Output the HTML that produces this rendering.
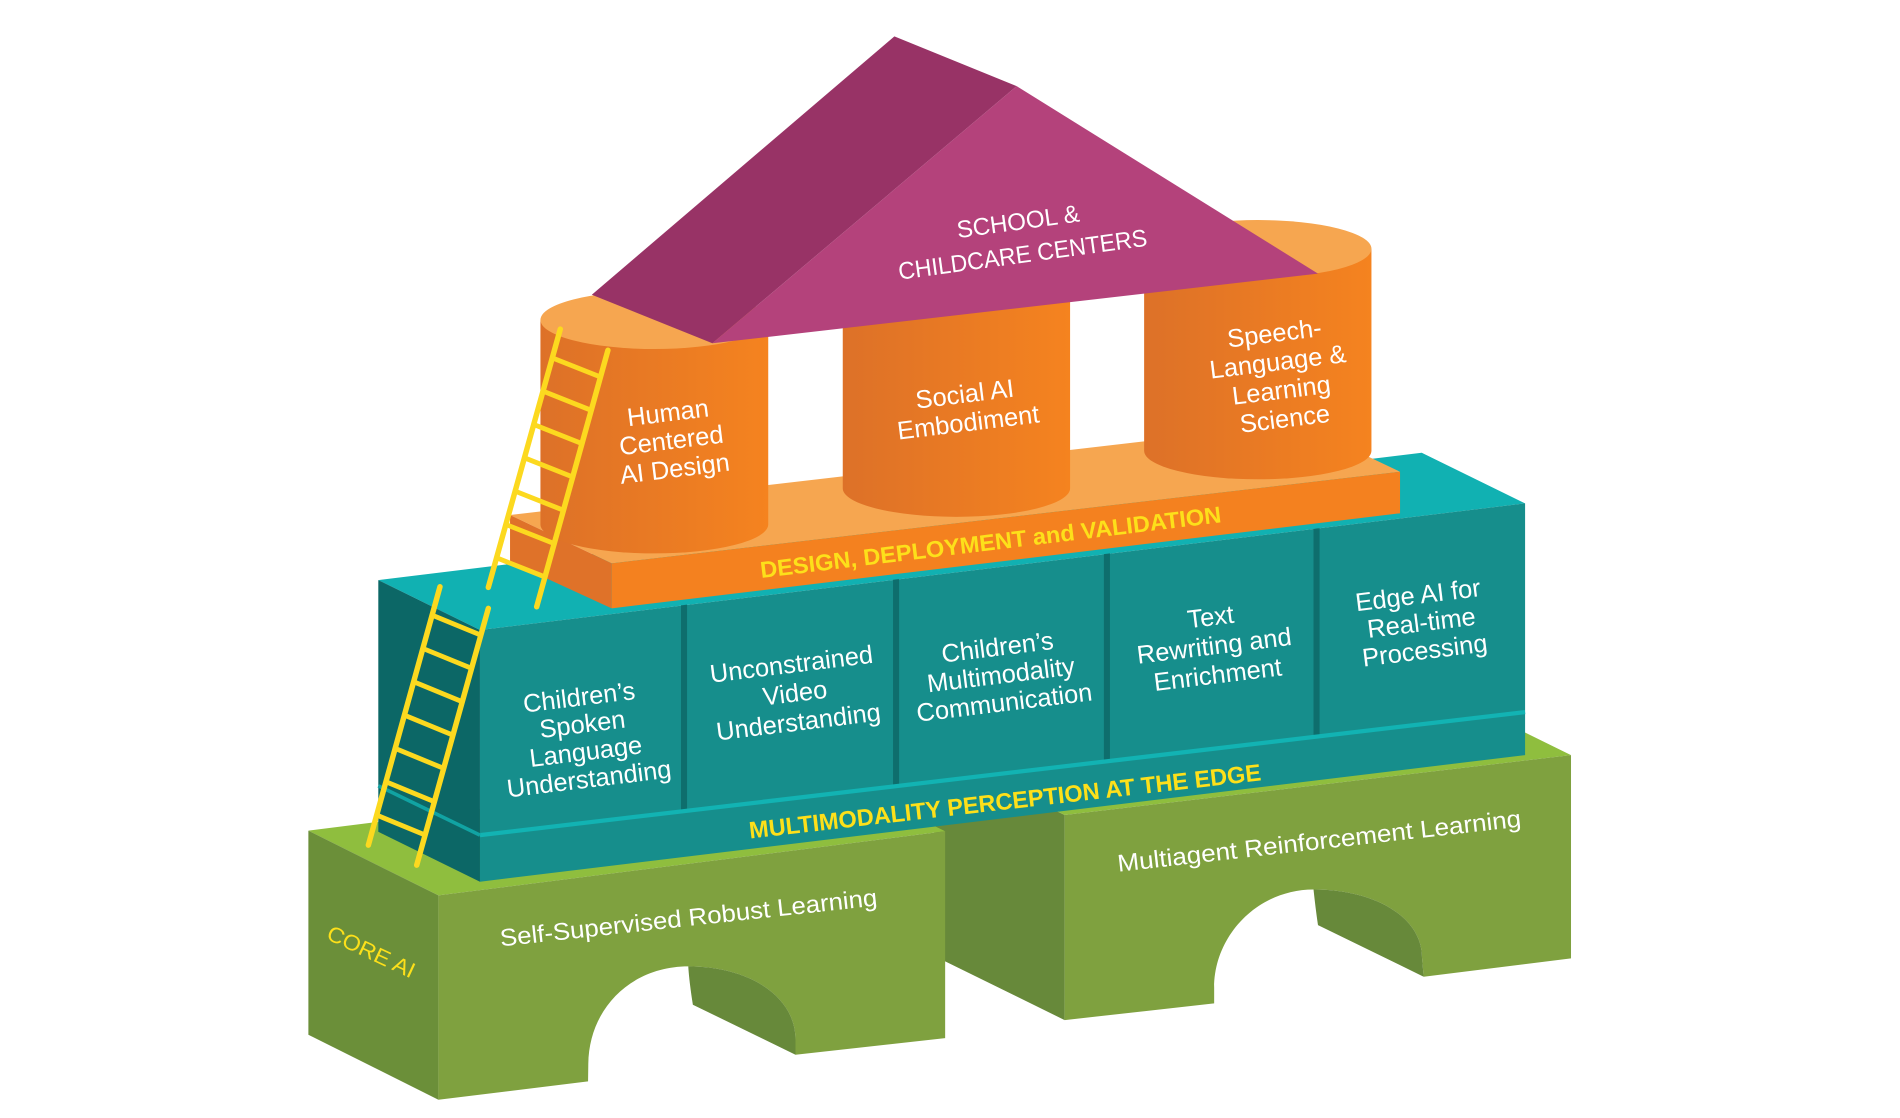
<!DOCTYPE html>
<html>
<head>
<meta charset="utf-8">
<style>
html,body{margin:0;padding:0;background:#ffffff;}
body{width:1900px;height:1118px;overflow:hidden;}
svg{display:block;}
text{font-family:"Liberation Sans",sans-serif;}
.w{fill:#ffffff;font-size:21px;}
.y{fill:#fde01a;}
</style>
</head>
<body>
<svg width="1900" height="1118" viewBox="0 0 1568 922.6" preserveAspectRatio="none" xmlns="http://www.w3.org/2000/svg">
<defs>
<linearGradient id="cyl" x1="0" y1="0" x2="1" y2="0">
<stop offset="0" stop-color="#dd7128"/>
<stop offset="1" stop-color="#f5831f"/>
</linearGradient>
</defs>
<rect x="0" y="0" width="1568" height="922.6" fill="#ffffff"/>

<!-- ===== GREEN BASE ===== -->
<!-- right block left face (gap) -->
<polygon points="771,619.7 878.6,672.6 878.6,841.8 771,788.9" fill="#67893a"/>
<!-- right block top -->
<polygon points="771,619.7 1188.9,570.2 1296.5,623.1 878.6,672.6" fill="#8fbe3e"/>
<!-- right block front -->
<path d="M878.6,672.6 L1296.5,623.1 L1296.5,790.9 L1174.9,806 L1173.5,790 C1173.5,757 1135,734 1084,734 C1038,734 1002,772 1002,815 L1002,828 L878.6,841.8 Z" fill="#7fa13f"/>
<!-- right arch inner -->
<path d="M1084,734 C1135,734 1173.5,757 1173.5,790 L1174.9,806 L1087.7,763.4 C1086,752 1085,743 1084,734 Z" fill="#67893a"/>

<!-- left block top -->
<polygon points="254.5,685.5 672.7,632.8 780,686 361.8,738.9" fill="#8fbe3e"/>
<!-- left block left face -->
<polygon points="254.5,685.5 361.8,738.9 361.8,907.5 254.5,853.9" fill="#6b8f39"/>
<!-- left block front -->
<path d="M361.8,738.9 L780,686 L780,856.7 L656.5,870.4 L656.5,858 C656.5,822 618,797.5 568,797.5 C521,797.5 486,832 485.5,878 L485.3,892.4 L361.8,907.5 Z" fill="#7fa13f"/>
<!-- left arch inner -->
<path d="M568,797.5 C618,797.5 656.5,822 656.5,858 L656.5,870.4 L571.8,829.1 C570,818 568.5,806 568,797.5 Z" fill="#67893a"/>

<!-- ===== TEAL BLOCK ===== -->
<polygon points="312.2,478.7 1173.3,373.6 1258.6,415.4 396.1,519.9" fill="#11b1b2"/>
<polygon points="312.2,478.7 396.1,519.9 396.1,727.6 312.2,686.4" fill="#0c6766"/>
<polygon points="396.1,519.9 1258.6,415.4 1258.6,623.1 396.1,727.6" fill="#168e8c"/>
<!-- cell dividers -->
<polygon points="562,499.6 567,499 567,667.5 562,668.2" fill="#0e6e6d"/>
<polygon points="737,478.4 742,477.8 742,647 737,647.6" fill="#0e6e6d"/>
<polygon points="911,457.3 916,456.7 916,626.5 911,627.1" fill="#0e6e6d"/>
<polygon points="1084,436.4 1089,435.8 1089,606.1 1084,606.7" fill="#0e6e6d"/>
<!-- band highlight -->
<line x1="396.1" y1="689.2" x2="1258.6" y2="587.6" stroke="#12b3b3" stroke-width="3.5"/>
<line x1="312.2" y1="648.5" x2="396.1" y2="689.2" stroke="#11a3a3" stroke-width="3"/>

<!-- ===== ORANGE SLAB ===== -->
<polygon points="420.9,425 1071.5,349.4 1155.4,389.3 504.8,464.9" fill="#f6a650"/>
<polygon points="420.9,425 504.8,464.9 504.8,502 420.9,463.5" fill="#df7229"/>
<polygon points="504.8,464.9 1155.4,389.3 1155.4,423.6 504.8,502" fill="#f4811f"/>

<!-- ===== CYLINDERS ===== -->
<path d="M446,264 L446,432.7 A94,24 0 0 0 634,432.7 L634,264 Z" fill="url(#cyl)"/>
<ellipse cx="540" cy="264" rx="94" ry="24" fill="#f6a650"/>
<path d="M695.5,232 L695.5,403 A93.8,23.5 0 0 0 883.1,403 L883.1,232 Z" fill="url(#cyl)"/>
<path d="M944.2,205.3 L944.2,372 A93.8,23.5 0 0 0 1131.8,372 L1131.8,205.3 Z" fill="url(#cyl)"/>
<ellipse cx="1038" cy="205.3" rx="93.8" ry="23.7" fill="#f6a650"/>

<!-- ===== ROOF ===== -->
<polygon points="738.1,30 839,71.1 587.9,283.3 488.4,243.2" fill="#983366"/>
<polygon points="839,71.1 1087.7,225.8 587.9,283.3" fill="#b4427b"/>

<!-- ===== LADDERS ===== -->
<g stroke="#fcd91f" stroke-linecap="round" fill="none">
<line x1="462.4" y1="271.6" x2="403" y2="484.7" stroke-width="4.5"/>
<line x1="501.7" y1="289" x2="442.9" y2="500.7" stroke-width="4.5"/>
<line x1="455.8" y1="295.3" x2="495.6" y2="311.1" stroke-width="4"/>
<line x1="448.1" y1="322.8" x2="487.9" y2="338.6" stroke-width="4"/>
<line x1="440.5" y1="350.3" x2="480.3" y2="366.1" stroke-width="4"/>
<line x1="432.8" y1="377.8" x2="472.7" y2="393.6" stroke-width="4"/>
<line x1="425.1" y1="405.3" x2="465.0" y2="421.1" stroke-width="4"/>
<line x1="417.5" y1="432.8" x2="457.4" y2="448.6" stroke-width="4"/>
<line x1="409.8" y1="460.3" x2="449.7" y2="476.1" stroke-width="4"/>

<line x1="363.1" y1="484.2" x2="304" y2="697.4" stroke-width="4.5"/>
<line x1="403" y1="502" x2="343.9" y2="713.9" stroke-width="4.5"/>
<line x1="356.6" y1="507.6" x2="396.8" y2="524.1" stroke-width="4"/>
<line x1="349.0" y1="535.1" x2="389.2" y2="551.6" stroke-width="4"/>
<line x1="341.4" y1="562.6" x2="381.5" y2="579.1" stroke-width="4"/>
<line x1="333.7" y1="590.1" x2="373.8" y2="606.6" stroke-width="4"/>
<line x1="326.1" y1="617.6" x2="366.2" y2="634.1" stroke-width="4"/>
<line x1="318.5" y1="645.1" x2="358.5" y2="661.6" stroke-width="4"/>
<line x1="310.9" y1="672.6" x2="350.8" y2="689.1" stroke-width="4"/>
</g>

<!-- ===== TEXT ===== -->
<!-- roof -->
<g transform="translate(842,196) rotate(-7.8)">
<text x="0" y="-6.5" text-anchor="middle" fill="#ffffff" font-size="20" textLength="102" lengthAdjust="spacingAndGlyphs">SCHOOL &amp;</text>
<text x="0" y="21" text-anchor="middle" fill="#ffffff" font-size="20" textLength="207" lengthAdjust="spacingAndGlyphs">CHILDCARE CENTERS</text>
</g>

<!-- cylinders -->
<g transform="translate(554,363.5) rotate(-7)">
<text class="w" x="0" y="-16" text-anchor="middle">Human</text>
<text class="w" x="0" y="7" text-anchor="middle">Centered</text>
<text class="w" x="0" y="30.5" text-anchor="middle">AI Design</text>
</g>
<g transform="translate(797.6,337) rotate(-7)">
<text class="w" x="0" y="-4.8" text-anchor="middle">Social AI</text>
<text class="w" x="0" y="18.8" text-anchor="middle">Embodiment</text>
</g>
<g transform="translate(1056,310.3) rotate(-7)">
<text class="w" x="0" y="-28.5" text-anchor="middle">Speech-</text>
<text class="w" x="0" y="-4.8" text-anchor="middle">Language &amp;</text>
<text class="w" x="0" y="18.9" text-anchor="middle">Learning</text>
<text class="w" x="0" y="42.6" text-anchor="middle">Science</text>
</g>

<!-- slab label -->
<text x="628.2" y="477" transform="rotate(-6.9 628.2 477)" class="y" font-size="19" font-weight="bold" textLength="383" lengthAdjust="spacingAndGlyphs">DESIGN, DEPLOYMENT and VALIDATION</text>

<!-- teal cells -->
<g transform="translate(482,609) rotate(-7)">
<text class="w" x="0" y="-26.8" text-anchor="middle">Children’s</text>
<text class="w" x="0" y="-4.4" text-anchor="middle">Spoken</text>
<text class="w" x="0" y="18.4" text-anchor="middle">Language</text>
<text class="w" x="0" y="41.1" text-anchor="middle">Understanding</text>
</g>
<g transform="translate(656,572) rotate(-7)">
<text class="w" x="0" y="-17" text-anchor="middle">Unconstrained</text>
<text class="w" x="0" y="7" text-anchor="middle">Video</text>
<text class="w" x="0" y="31" text-anchor="middle">Understanding</text>
</g>
<g transform="translate(826,557) rotate(-7)">
<text class="w" x="0" y="-16" text-anchor="middle">Children’s</text>
<text class="w" x="0" y="7" text-anchor="middle">Multimodality</text>
<text class="w" x="0" y="30" text-anchor="middle">Communication</text>
</g>
<g transform="translate(1002,533) rotate(-7)">
<text class="w" x="0" y="-17" text-anchor="middle">Text</text>
<text class="w" x="0" y="7" text-anchor="middle">Rewriting and</text>
<text class="w" x="0" y="31" text-anchor="middle">Enrichment</text>
</g>
<g transform="translate(1173,514) rotate(-7)">
<text class="w" x="0" y="-16" text-anchor="middle">Edge AI for</text>
<text class="w" x="0" y="7" text-anchor="middle">Real-time</text>
<text class="w" x="0" y="30" text-anchor="middle">Processing</text>
</g>

<!-- band label -->
<text x="619" y="692" transform="rotate(-6.5 619 692)" class="y" font-size="19.5" font-weight="bold" textLength="425" lengthAdjust="spacingAndGlyphs">MULTIMODALITY PERCEPTION AT THE EDGE</text>

<!-- green labels -->
<text x="413.4" y="781" transform="rotate(-6.2 413.4 781)" fill="#ffffff" font-size="20" textLength="313" lengthAdjust="spacingAndGlyphs">Self-Supervised Robust Learning</text>
<text x="923" y="719.4" transform="rotate(-6.4 923 719.4)" fill="#ffffff" font-size="20" textLength="335" lengthAdjust="spacingAndGlyphs">Multiagent Reinforcement Learning</text>
<text x="0" y="6.5" transform="translate(306.5,785.1) rotate(25)" text-anchor="middle" class="y" font-size="18" textLength="78" lengthAdjust="spacingAndGlyphs">CORE AI</text>
</svg>
</body>
</html>
